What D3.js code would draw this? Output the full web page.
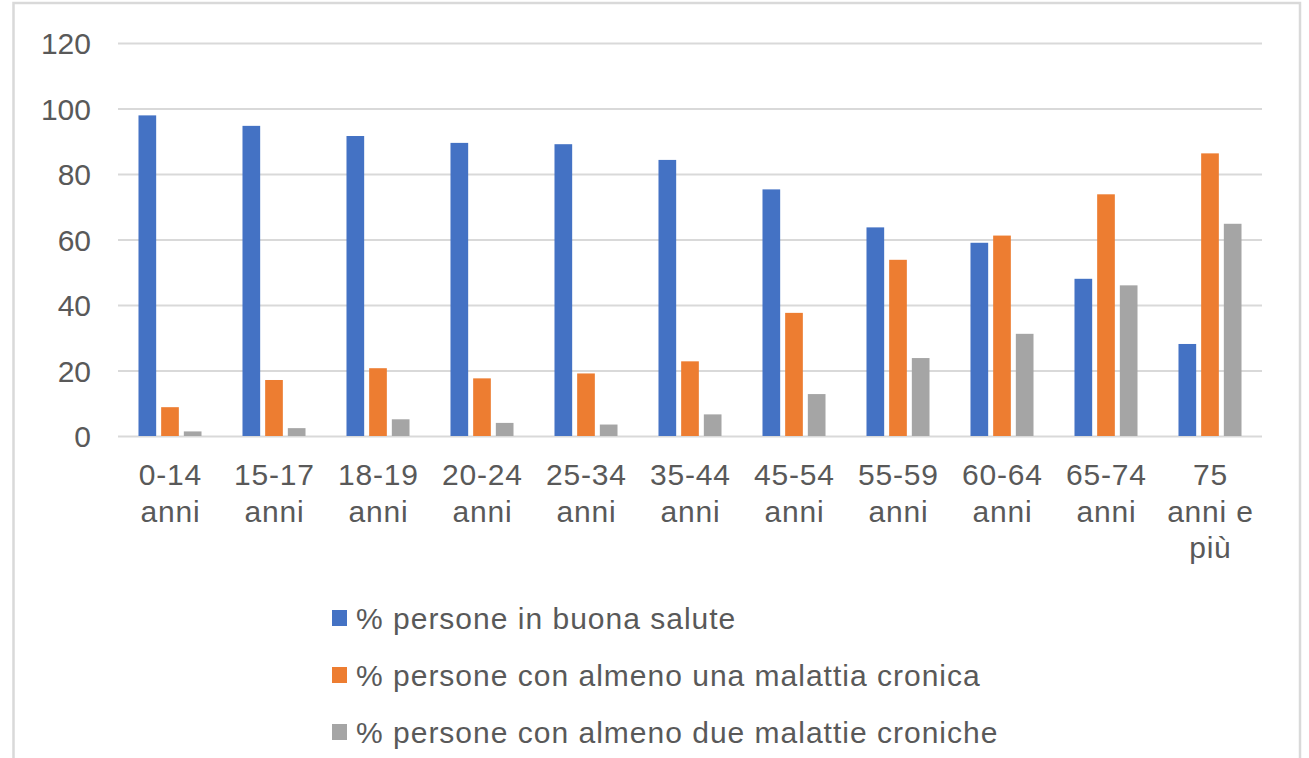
<!DOCTYPE html>
<html>
<head>
<meta charset="utf-8">
<script src="https://cdn.jsdelivr.net/npm/d3@7"></script>
<style>
  body { margin: 0; background: #fff; }
  svg { display: block; font-family: "Liberation Sans", Arial, sans-serif; }
</style>
</head>
<body>
<svg width="1309" height="758"></svg>
<script>
// categorie (fasce d'età), righe separate da \n
const categories = [
    "0-14\nanni", "15-17\nanni", "18-19\nanni", "20-24\nanni", "25-34\nanni",
    "35-44\nanni", "45-54\nanni", "55-59\nanni", "60-64\nanni", "65-74\nanni",
    "75\nanni e\npiù"
];

const seriesNames = [
    "% persone in buona salute",
    "% persone con almeno una malattia cronica",
    "% persone con almeno due malattie croniche"
];

const buonaSalute = [97.9, 94.7, 91.6, 89.5, 89.1, 84.3, 75.3, 63.7, 59.0, 48.0, 28.1];
const unaCronica  = [8.8, 17.1, 20.7, 17.6, 19.1, 22.8, 37.6, 53.8, 61.2, 73.8, 86.3];
const dueCroniche = [1.4, 2.4, 5.1, 4.0, 3.5, 6.6, 12.8, 23.8, 31.2, 46.0, 64.8];

const yTicks = [0, 20, 40, 60, 80, 100, 120];

const colors = ["#4472c4", "#ed7d31", "#a5a5a5"];

const svg = d3.select("svg");

// area del grafico
const area = { left: 118, right: 1262, top: 43, bottom: 436 };

// bordo del riquadro
svg.append("path")
    .attr("d", "M13.5,758 L13.5,3 L1300,3 L1300,758")
    .attr("fill", "none")
    .attr("stroke", "#d9d9d9")
    .attr("stroke-width", 2.5);

const scaleX = d3.scaleBand()
    .domain(categories)
    .range([area.left, area.right])
    .paddingInner(0.394)
    .paddingOuter(0.197);

const scaleSeries = d3.scaleBand()
    .domain(d3.range(3))
    .range([0, scaleX.bandwidth()])
    .paddingInner(0.22);

const scaleY = d3.scaleLinear()
    .domain([0, 120])
    .range([area.bottom, area.top]);

// griglia orizzontale
svg.append("g")
    .attr("transform", `translate(${area.left},0)`)
    .call(d3.axisLeft(scaleY).tickValues(yTicks).tickSize(-(area.right - area.left)).tickFormat(""))
    .call(g => g.select(".domain").remove())
    .selectAll("line")
    .attr("stroke", "#d9d9d9")
    .attr("stroke-width", 2);

// etichette asse Y
svg.append("g")
    .attr("transform", "translate(91,0)")
    .call(d3.axisLeft(scaleY).tickValues(yTicks).tickSize(0).tickPadding(0))
    .call(g => g.select(".domain").remove())
    .selectAll("text")
    .attr("font-size", 30)
    .attr("font-family", "Liberation Sans, Arial, sans-serif")
    .attr("fill", "#595959")
    .attr("dy", "0.36em");

// barre
const allSeries = [buonaSalute, unaCronica, dueCroniche];

allSeries.forEach((values, i) => {
    svg.append("g")
        .selectAll("rect")
        .data(values)
        .enter()
        .append("rect")
        .attr("x", (d, j) => scaleX(categories[j]) + scaleSeries(i))
        .attr("y", d => scaleY(d))
        .attr("width", scaleSeries.bandwidth())
        .attr("height", d => scaleY(0) - scaleY(d))
        .attr("fill", colors[i]);
});

// etichette asse X su più righe
const xLabels = svg.append("g")
    .selectAll("text")
    .data(categories)
    .enter()
    .append("text")
    .attr("x", d => scaleX(d) + scaleX.bandwidth() / 2)
    .attr("y", 485)
    .attr("text-anchor", "middle")
    .attr("font-size", 30)
    .attr("letter-spacing", 0.8)
    .attr("fill", "#595959");

xLabels.each(function(d) {
    const lines = d.split("\n");
    d3.select(this).selectAll("tspan")
        .data(lines)
        .enter()
        .append("tspan")
        .attr("x", scaleX(d) + scaleX.bandwidth() / 2 + 0.4)
        .attr("dy", (l, k) => k === 0 ? 0 : 36.5)
        .text(l => l);
});

// legenda
const legend = svg.append("g")
    .selectAll("g")
    .data(seriesNames)
    .enter()
    .append("g")
    .attr("transform", (d, i) => `translate(332, ${618 + i * 57})`);

legend.append("rect")
    .attr("x", 0)
    .attr("y", -8)
    .attr("width", 15)
    .attr("height", 16)
    .attr("fill", (d, i) => colors[i]);

legend.append("text")
    .attr("x", 24)
    .attr("y", 0)
    .attr("dy", "0.35em")
    .attr("font-size", 30)
    .attr("letter-spacing", 1)
    .attr("fill", "#595959")
    .text(d => d);
</script>
</body>
</html>
